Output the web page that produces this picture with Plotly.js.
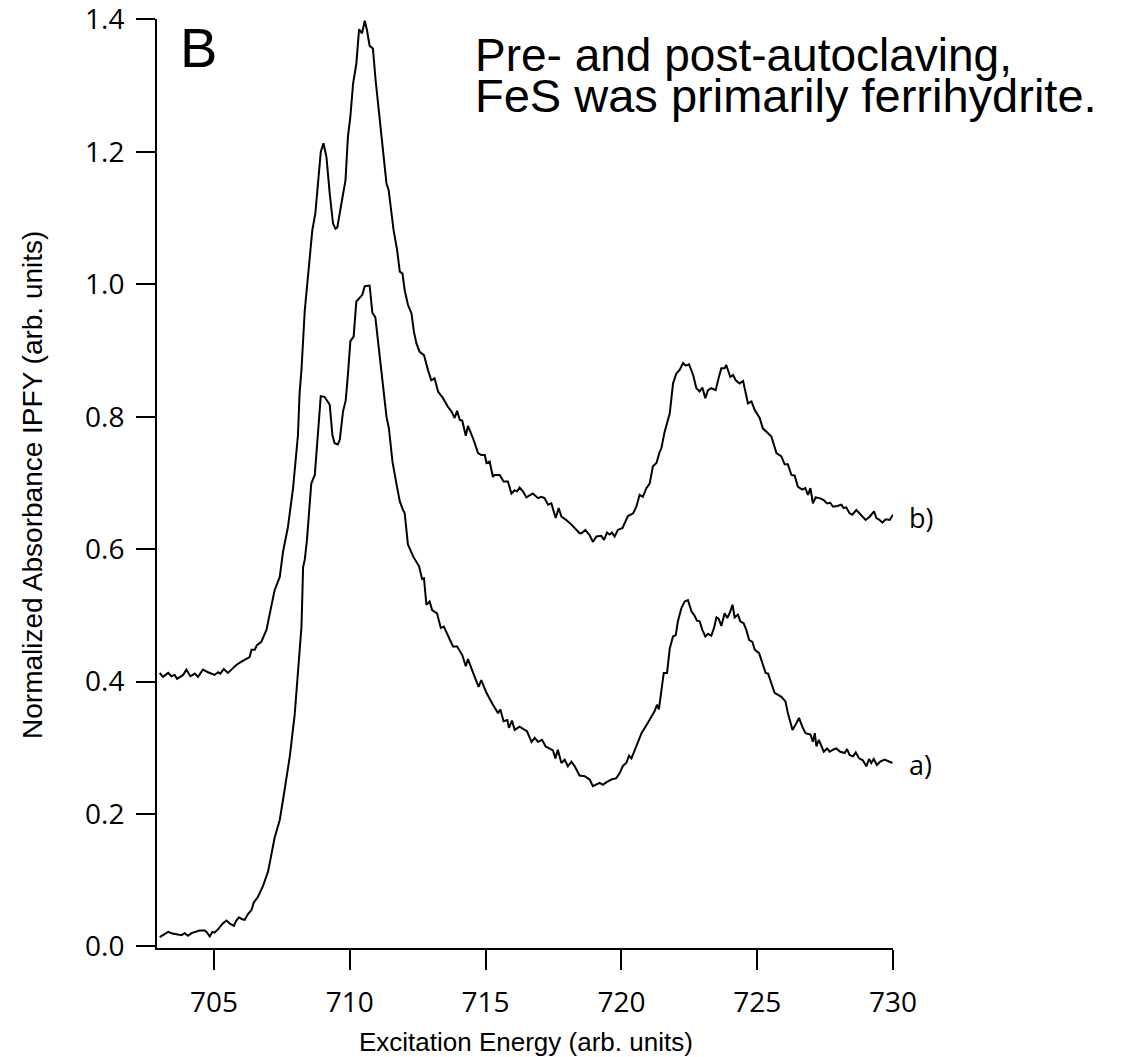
<!DOCTYPE html>
<html>
<head>
<meta charset="utf-8">
<script src="https://cdn.plot.ly/plotly-3.0.1.min.js"></script>
<style>html,body{margin:0;padding:0;background:#fff;}#chart{width:1124px;height:1057px;}</style>
</head>
<body>
<div id="chart"></div>
<script>
// Spectrum a) (lower), excitation energy and normalized absorbance
const energyA = [703.00,703.31,703.43,703.61,703.80,703.92,704.04,704.17,704.35,704.47,704.66,704.74,704.84,704.94,705.02,705.15,705.33,705.46,705.60,705.73,705.82,705.92,706.04,706.13,706.25,706.38,706.46,706.62,706.80,706.99,707.23,707.42,707.60,707.72,707.79,707.97,708.09,708.22,708.28,708.34,708.42,708.58,708.71,708.81,708.93,709.07,709.20,709.26,709.36,709.44,709.56,709.63,709.75,709.85,709.93,710.02,710.14,710.24,710.46,710.55,710.73,710.83,710.94,711.04,711.10,711.22,711.35,711.44,711.57,711.71,711.84,711.95,712.02,712.14,712.33,712.55,712.66,712.73,712.82,712.94,713.03,713.21,713.35,713.46,713.61,713.80,713.95,714.14,714.27,714.35,714.54,714.74,714.84,715.03,715.27,715.46,715.54,715.66,715.80,715.86,715.97,716.07,716.25,716.40,716.52,716.69,716.81,716.93,717.08,717.21,717.48,717.57,717.66,717.79,717.91,718.03,718.16,718.28,718.46,718.65,718.83,718.95,719.08,719.20,719.32,719.45,719.63,719.81,719.94,720.06,720.18,720.28,720.37,720.55,720.74,720.92,721.04,721.10,721.22,721.31,721.38,721.51,721.56,721.68,721.78,721.90,722.00,722.08,722.21,722.33,722.45,722.58,722.70,722.78,722.88,722.98,723.09,723.19,723.31,723.41,723.50,723.58,723.68,723.80,723.90,724.01,724.09,724.17,724.29,724.38,724.50,724.60,724.70,724.82,724.91,725.07,725.21,725.31,725.40,725.64,725.89,726.04,726.13,726.30,726.44,726.54,726.66,726.78,726.96,727.05,727.12,727.18,727.27,727.36,727.45,727.57,727.67,727.79,727.91,728.06,728.22,728.31,728.40,728.53,728.63,728.75,728.89,729.02,729.12,729.20,729.29,729.41,729.53,729.69,729.81,729.98];
const absorbA = [0.014,0.022,0.020,0.019,0.017,0.020,0.016,0.020,0.022,0.024,0.024,0.021,0.015,0.022,0.021,0.026,0.035,0.039,0.034,0.031,0.039,0.044,0.041,0.040,0.049,0.055,0.066,0.075,0.091,0.113,0.164,0.191,0.237,0.269,0.287,0.350,0.408,0.483,0.573,0.584,0.613,0.699,0.712,0.772,0.831,0.830,0.821,0.818,0.772,0.760,0.758,0.765,0.808,0.825,0.864,0.914,0.921,0.974,0.984,0.997,0.998,0.957,0.950,0.915,0.885,0.850,0.800,0.782,0.732,0.700,0.672,0.660,0.654,0.607,0.589,0.574,0.555,0.556,0.516,0.521,0.508,0.503,0.481,0.483,0.470,0.453,0.453,0.440,0.423,0.434,0.413,0.392,0.402,0.383,0.365,0.352,0.358,0.340,0.342,0.330,0.341,0.327,0.332,0.328,0.325,0.309,0.315,0.309,0.312,0.302,0.296,0.284,0.297,0.277,0.282,0.272,0.279,0.272,0.258,0.257,0.252,0.242,0.244,0.247,0.244,0.248,0.252,0.254,0.262,0.273,0.277,0.288,0.284,0.302,0.322,0.334,0.342,0.347,0.355,0.365,0.358,0.398,0.413,0.413,0.450,0.468,0.470,0.491,0.511,0.521,0.523,0.506,0.499,0.492,0.491,0.478,0.468,0.472,0.469,0.481,0.497,0.495,0.484,0.503,0.496,0.506,0.516,0.497,0.501,0.491,0.488,0.478,0.463,0.460,0.448,0.443,0.425,0.413,0.412,0.383,0.377,0.370,0.352,0.327,0.337,0.345,0.332,0.322,0.320,0.309,0.322,0.302,0.312,0.304,0.294,0.299,0.294,0.297,0.299,0.294,0.292,0.298,0.289,0.287,0.293,0.284,0.281,0.272,0.283,0.277,0.283,0.274,0.279,0.282,0.280,0.277];

// Spectrum b) (upper)
const energyB = [703.00,703.12,703.31,703.43,703.55,703.64,703.86,703.98,704.13,704.29,704.41,704.59,704.78,705.02,705.15,705.23,705.36,705.51,705.64,705.82,706.01,706.17,706.31,706.38,706.50,706.58,706.74,706.93,707.08,707.23,707.42,707.54,707.72,707.91,708.09,708.15,708.22,708.28,708.34,708.40,708.52,708.62,708.73,708.83,708.93,709.03,709.14,709.26,709.38,709.47,709.54,709.69,709.84,709.93,710.02,710.12,710.24,710.34,710.40,710.45,710.55,710.63,710.73,710.85,710.95,711.07,711.20,711.35,711.43,711.55,711.61,711.74,711.84,711.94,712.02,712.14,712.27,712.36,712.45,712.57,712.73,712.88,713.00,713.12,713.25,713.43,713.61,713.74,713.86,713.95,714.05,714.14,714.27,714.35,714.54,714.72,714.84,714.97,715.03,715.15,715.27,715.33,715.52,715.66,715.82,715.95,716.07,716.16,716.25,716.38,716.50,716.74,716.93,717.05,717.17,717.30,717.42,717.58,717.69,717.79,717.97,718.16,718.34,718.46,718.53,718.67,718.83,718.95,719.08,719.26,719.36,719.47,719.57,719.65,719.75,719.87,720.04,720.24,720.43,720.55,720.67,720.79,720.92,721.04,721.16,721.29,721.41,721.47,721.59,721.78,721.90,722.02,722.15,722.27,722.37,722.49,722.64,722.76,722.88,722.98,723.09,723.19,723.31,723.47,723.59,723.68,723.80,723.86,724.01,724.11,724.21,724.35,724.48,724.66,724.79,724.91,725.09,725.21,725.40,725.52,725.71,725.89,726.01,726.13,726.26,726.38,726.50,726.66,726.77,726.87,726.96,727.05,727.15,727.30,727.45,727.57,727.69,727.79,727.94,728.10,728.18,728.28,728.40,728.50,728.65,728.77,728.87,728.99,729.14,729.30,729.39,729.51,729.61,729.73,729.88,730.00];
const absorbB = [0.413,0.407,0.413,0.408,0.410,0.404,0.410,0.418,0.408,0.412,0.407,0.418,0.414,0.410,0.414,0.412,0.419,0.413,0.418,0.425,0.430,0.434,0.437,0.448,0.448,0.455,0.460,0.478,0.508,0.538,0.558,0.596,0.633,0.692,0.772,0.835,0.871,0.926,0.960,0.986,1.034,1.082,1.107,1.152,1.200,1.213,1.192,1.137,1.092,1.084,1.086,1.122,1.157,1.223,1.253,1.303,1.333,1.385,1.381,1.379,1.398,1.384,1.360,1.356,1.308,1.258,1.213,1.152,1.142,1.096,1.082,1.052,1.019,1.016,0.991,0.969,0.956,0.928,0.911,0.898,0.893,0.870,0.855,0.858,0.838,0.828,0.815,0.808,0.798,0.809,0.795,0.794,0.771,0.786,0.767,0.745,0.742,0.742,0.730,0.732,0.709,0.712,0.712,0.702,0.702,0.684,0.689,0.687,0.693,0.687,0.678,0.684,0.677,0.679,0.677,0.667,0.669,0.647,0.662,0.649,0.644,0.637,0.629,0.624,0.624,0.629,0.621,0.611,0.619,0.620,0.614,0.625,0.622,0.625,0.619,0.629,0.632,0.650,0.654,0.664,0.682,0.679,0.692,0.699,0.725,0.730,0.747,0.752,0.777,0.805,0.850,0.865,0.871,0.881,0.877,0.879,0.863,0.843,0.838,0.844,0.828,0.840,0.843,0.840,0.860,0.873,0.873,0.878,0.860,0.863,0.855,0.850,0.854,0.820,0.823,0.810,0.798,0.782,0.775,0.770,0.745,0.740,0.728,0.728,0.712,0.711,0.694,0.690,0.692,0.682,0.692,0.669,0.678,0.677,0.674,0.669,0.670,0.664,0.665,0.667,0.662,0.663,0.654,0.652,0.659,0.654,0.650,0.644,0.649,0.657,0.647,0.644,0.640,0.645,0.644,0.652];

const xTickVals = [705, 710, 715, 720, 725, 730];
const yTickVals = [0.0, 0.2, 0.4, 0.6, 0.8, 1.0, 1.2, 1.4];
const yTickText = ['0.0', '0.2', '0.4', '0.6', '0.8', '1.0', '1.2', '1.4'];
const seriesLabels = ['a)', 'b)'];

const lineStyle = {color: '#000', width: 2};
const traces = [
  {x: energyA, y: absorbA, type: 'scatter', mode: 'lines', line: lineStyle, name: seriesLabels[0], hoverinfo: 'skip'},
  {x: energyB, y: absorbB, type: 'scatter', mode: 'lines', line: lineStyle, name: seriesLabels[1], hoverinfo: 'skip'}
];

const tickFont = {family: 'Open Sans, DejaVu Sans, sans-serif', size: 28, color: '#000'};
const arial = 'Liberation Sans, Arial, sans-serif';

const layout = {
  width: 1124, height: 1057,
  margin: {l: 157.3, r: 230.7, t: 19.2, b: 108.7, pad: 0},
  paper_bgcolor: '#fff', plot_bgcolor: '#fff',
  showlegend: false,
  xaxis: {
    range: [702.9, 730], tickvals: xTickVals, ticks: 'outside', ticklen: 20, tickwidth: 2,
    tickcolor: '#000', showline: true, linecolor: '#000', linewidth: 2, showgrid: false,
    zeroline: false, tickfont: tickFont, ticklabelstandoff: 8, ticklabeloverflow: 'allow'
  },
  yaxis: {
    range: [-0.0024, 1.4006], tickvals: yTickVals, ticktext: yTickText, ticks: 'outside', ticklen: 19, tickwidth: 2,
    tickcolor: '#000', showline: true, linecolor: '#000', linewidth: 2, showgrid: false,
    zeroline: false, tickfont: tickFont, ticklabelstandoff: 6, ticklabeloverflow: 'allow'
  },
  annotations: [
    {xref: 'paper', yref: 'paper', x: 0.501, y: -0.1009, xanchor: 'center', yanchor: 'middle', showarrow: false,
     text: 'Excitation Energy (arb. units)', font: {family: arial, size: 26, color: '#000'}},
    {xref: 'paper', yref: 'paper', x: -0.169, y: 0.498, xanchor: 'center', yanchor: 'middle', showarrow: false, textangle: -90,
     text: 'Normalized Absorbance IPFY (arb. units)', font: {family: arial, size: 28, color: '#000'}},
    {xref: 'paper', yref: 'paper', x: 0.0567, y: 0.969, xanchor: 'center', yanchor: 'middle', showarrow: false,
     text: 'B', font: {family: arial, size: 56, color: '#000'}},
    {xref: 'paper', yref: 'paper', x: 0.429, y: 0.961, xanchor: 'left', yanchor: 'middle', showarrow: false,
     text: 'Pre- and post-autoclaving,', font: {family: arial, size: 46, color: '#000'}},
    {xref: 'paper', yref: 'paper', x: 0.429, y: 0.918, xanchor: 'left', yanchor: 'middle', showarrow: false,
     text: 'FeS was primarily ferrihydrite.', font: {family: arial, size: 47, color: '#000'}},
    {xref: 'paper', yref: 'paper', x: 1.0186, y: 0.463, xanchor: 'left', yanchor: 'middle', showarrow: false,
     text: seriesLabels[1], font: {family: 'Open Sans, DejaVu Sans, sans-serif', size: 27, color: '#000'}},
    {xref: 'paper', yref: 'paper', x: 1.0186, y: 0.197, xanchor: 'left', yanchor: 'middle', showarrow: false,
     text: seriesLabels[0], font: {family: 'Open Sans, DejaVu Sans, sans-serif', size: 27, color: '#000'}}
  ]
};

Plotly.newPlot('chart', traces, layout, {displayModeBar: false, staticPlot: true});
</script>
</body>
</html>
